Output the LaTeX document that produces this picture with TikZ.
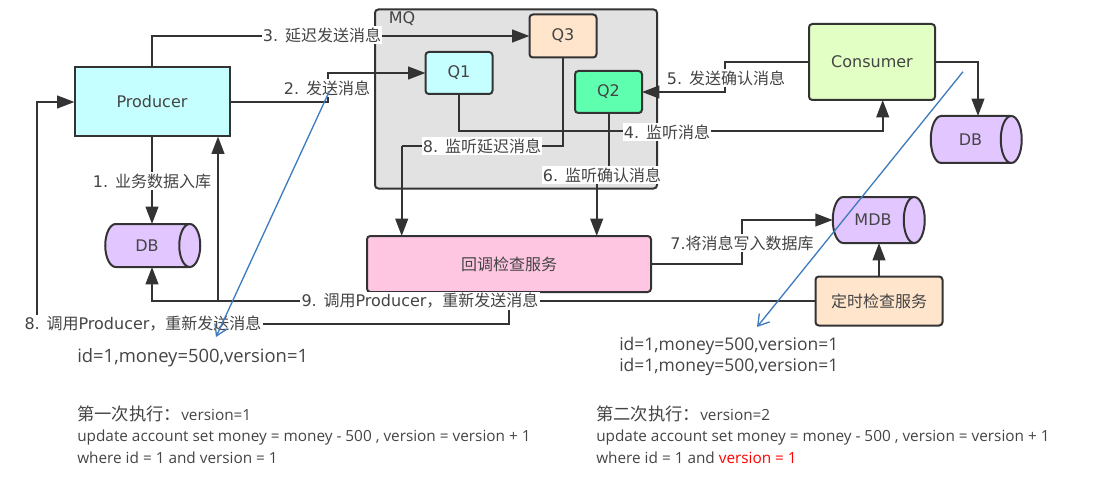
\documentclass[tikz,border=0pt]{standalone}
\usepackage{fontspec}
\setmainfont{DejaVu Sans}
\newfontfamily\cjk{Noto Sans CJK SC}
\newfontfamily\notefont{Open Sans}
\newcommand{\zh}[1]{{\cjk #1}}
\usepackage{xcolor}
\definecolor{linegray}{HTML}{333333}
\definecolor{textgray}{HTML}{444444}
\definecolor{mqgray}{HTML}{E2E2E2}
\definecolor{cyanbox}{HTML}{C6FFFF}
\definecolor{peachbox}{HTML}{FFE5CC}
\definecolor{greenbox}{HTML}{5FFFB0}
\definecolor{limebox}{HTML}{E2FFC4}
\definecolor{pinkbox}{HTML}{FFC6E2}
\definecolor{violetdb}{HTML}{E2C6FF}
\definecolor{bluearrow}{HTML}{3F7CBF}
\usetikzlibrary{arrows.meta}
\usetikzlibrary{shapes.geometric}
\tikzset{
    box/.style={draw=linegray, line width=1.5pt, inner sep=0pt, outer sep=0pt, rounded corners=2.5pt, text=textgray, font=\fontsize{12}{14}\selectfont},
    dbcyl/.style={box, cylinder, shape border rotate=0, aspect=1.8, fill=violetdb, rounded corners=0pt},
    conn/.style={draw=linegray, line width=1.5pt, -{Triangle[length=13pt,width=9.5pt]}},
    wire/.style={draw=linegray, line width=1.5pt},
    lbl/.style={fill=white, inner sep=1pt, text=textgray, font=\fontsize{12}{14}\selectfont},
    note/.style={anchor=west, inner sep=0pt, text=textgray, font=\notefont\fontsize{11.5}{13}\selectfont},
    bignote/.style={note, font=\notefont\fontsize{13.8}{16}\selectfont},
    midnote/.style={note, font=\notefont\fontsize{13.1}{16}\selectfont},
    blueline/.style={draw=bluearrow, line width=1pt, -{Straight Barb[length=8pt,width=10pt]}}
}
\begin{document}
\begin{tikzpicture}[x=0.75pt, y=-0.75pt]
    \useasboundingbox (0, 0) rectangle (1115, 485);

    % the queue box and what is in it
    \node (mq) at (516, 99) [box, fill=mqgray, minimum width=282*0.75pt, minimum height=179*0.75pt] {};
    \node (mqname) at (402, 19) [lbl, fill=none] {MQ};
    \node (q3) at (563, 36) [box, fill=peachbox, minimum width=67*0.75pt, minimum height=43*0.75pt] {Q3};
    \node (q1) at (459, 73) [box, fill=cyanbox, minimum width=67*0.75pt, minimum height=42*0.75pt] {Q1};
    \node (q2) at (608.5, 92) [box, fill=greenbox, minimum width=67*0.75pt, minimum height=42*0.75pt] {Q2};

    \node (producer) at (152, 102) [box, fill=cyanbox, rounded corners=0pt, minimum width=155*0.75pt, minimum height=69*0.75pt] {Producer};
    \node (consumer) at (872, 62) [box, fill=limebox, minimum width=126*0.75pt, minimum height=76*0.75pt] {Consumer};
    \node (check) at (509, 264) [box, fill=pinkbox, minimum width=284*0.75pt, minimum height=56*0.75pt] {\zh{回调检查服务}};
    \node (timer) at (879, 301) [box, fill=peachbox, minimum width=127*0.75pt, minimum height=49*0.75pt] {\zh{定时检查服务}};

    \node (db1) at (147, 245.5) [dbcyl, minimum width=43*0.75pt, minimum height=95*0.75pt] {DB\hspace{19pt}};
    \node (db2) at (970.5, 139.5) [dbcyl, minimum width=47*0.75pt, minimum height=91*0.75pt] {DB\hspace{16.5pt}};
    \node (mdb) at (873, 220) [dbcyl, minimum width=46*0.75pt, minimum height=92*0.75pt] {MDB\hspace{15.5pt}};

    % bends that the lines go through, the labels sit on most of them
    \coordinate (bend2) at (327.5, 88);
    \coordinate (bend4) at (882.7, 131);
    \coordinate (bend5) at (725, 78);
    \coordinate (bend6a) at (608.5, 175);
    \coordinate (bend6b) at (596.7, 175);
    \coordinate (bend7) at (741.7, 243);
    \coordinate (bend8) at (401.7, 146);
    \coordinate (bend9) at (218, 301);
    \coordinate (bend10) at (509, 324);
    \coordinate (bend11) at (37, 324);
    \coordinate (in4) at (882.7, 100);
    \coordinate (in2) at (978, 116);

    \draw[conn] (producer.south) -- (producer.south |- db1.north);
    \draw[conn] (producer.east) -| (bend2) |- (q1.west);
    \draw[conn] (producer.north) |- (q3.west);
    \draw[conn] (q1.south) |- (bend4) -- (in4);
    \draw[conn] (consumer.west) -| (bend5) |- (q2.east);
    \draw[wire] (q2.south) -- (bend6a) -- (bend6b);
    \draw[conn] (bend6b) -- (bend6b |- check.north);
    \draw[conn] (check.east) -| (bend7) |- (mdb.west);
    \draw[wire] (q3.south) |- (bend8);
    \draw[conn] (bend8) -- (bend8 |- check.north);
    \draw[conn] (timer.west) -- (bend9) -| (producer.south |- db1.south);
    \draw[conn] (bend9) -- (bend9 |- producer.south);
    \draw[wire] (bend10 |- timer.west) -- (bend10) -- (bend11);
    \draw[conn] (bend11) |- (producer.west);
    \draw[conn] (consumer.east) -| (in2);
    \draw[conn] (timer.north) -- (timer.north |- mdb.south);

    % labels go on top of the lines
    \node (lbl1) at (152, 181) [lbl] {1. \zh{业务数据入库}};
    \node (lbl2) at (327, 88) [lbl] {2. \zh{发送消息}};
    \node (lbl3) at (322, 35) [lbl] {3. \zh{延迟发送消息}};
    \node (lbl4) at (667, 132) [lbl] {4. \zh{监听消息}};
    \node (lbl5) at (726, 78) [lbl] {5. \zh{发送确认消息}};
    \node (lbl6) at (602, 175) [lbl] {6. \zh{监听确认消息}};
    \node (lbl7) at (742, 243) [lbl] {7.\zh{将消息写入数据库}};
    \node (lbl8a) at (482, 146) [lbl] {8. \zh{监听延迟消息}};
    \node (lbl9) at (420, 301) [lbl] {9. \zh{调用}Producer\zh{，重新发送消息}};
    \node (lbl8b) at (143, 324) [lbl] {8. \zh{调用}Producer\zh{，重新发送消息}};

    % blue notes
    \coordinate (blue1a) at (329, 92);
    \coordinate (blue1b) at (216, 337);
    \coordinate (blue2a) at (963, 71.7);
    \coordinate (blue2b) at (757, 327);
    \draw[blueline] (blue1a) -- (blue1b);
    \draw[blueline] (blue2a) -- (blue2b);

    \node (row1) at (77, 358) [bignote] {id=1,money=500,version=1};
    \node (row2) at (619, 346) [midnote] {id=1,money=500,version=1};
    \node (row3) at (619, 367) [midnote] {id=1,money=500,version=1};

    \node (first) at (77, 414) [note] {{\cjk\fontsize{13}{15}\selectfont 第一次执行：}version=1};
    \node (firstb) at (77, 437.5) [note] {update account set money = money - 500 , version = version + 1};
    \node (firstc) at (77, 458) [note] {where id = 1 and version = 1};

    \node (second) at (596, 414) [note] {{\cjk\fontsize{13}{15}\selectfont 第二次执行：}version=2};
    \node (secondb) at (596, 437.5) [note] {update account set money = money - 500 , version = version + 1};
    \node (secondc) at (596, 458) [note] {where id = 1 and \textcolor{red}{version = 1}};
\end{tikzpicture}
\end{document}
